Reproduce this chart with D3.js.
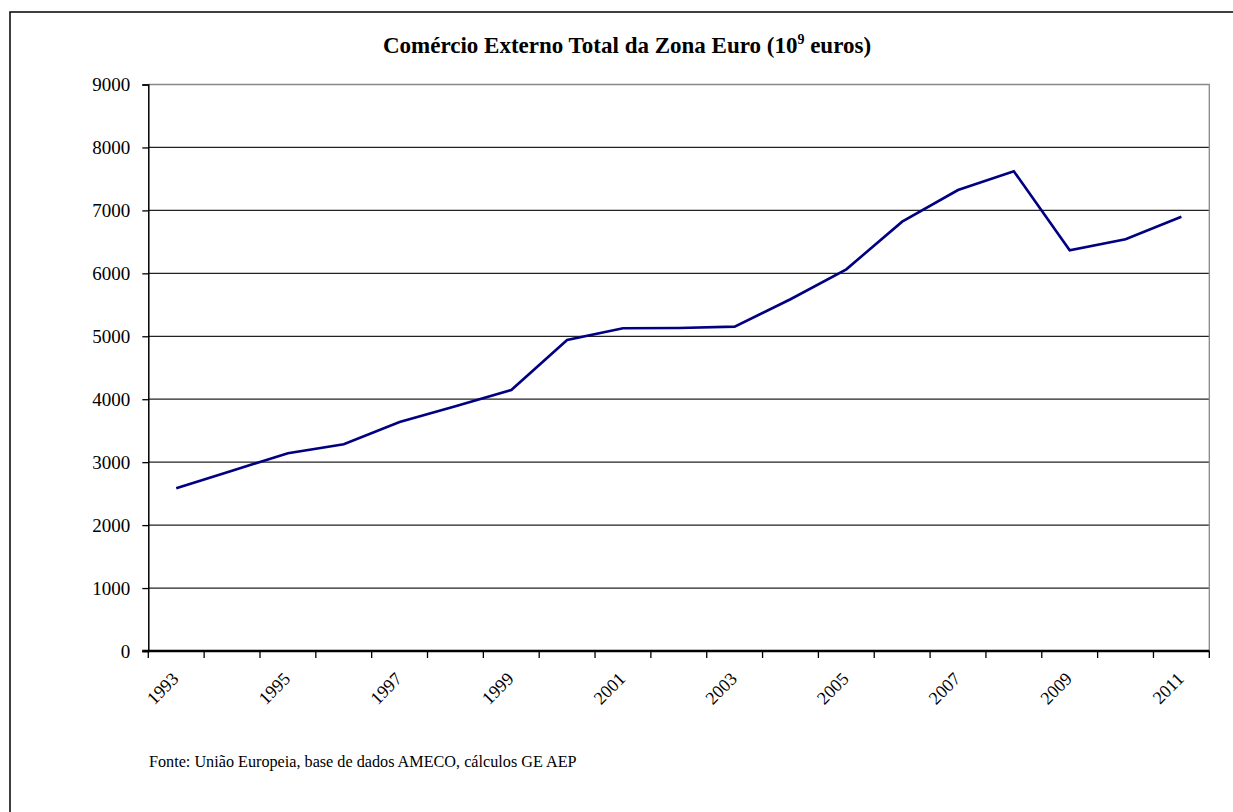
<!DOCTYPE html>
<html>
<head>
<meta charset="utf-8">
<script src="https://cdn.jsdelivr.net/npm/d3@7"></script>
<style>
  html, body { margin: 0; padding: 0; background: #fff; }
  svg { display: block; }
  text { font-family: "Liberation Serif", "Times New Roman", serif; fill: #000; }
</style>
</head>
<body>
<svg id="chart" width="1233" height="812"></svg>
<script>
// Total external trade of the euro area, billions of euros
const years = [1993, 1994, 1995, 1996, 1997, 1998, 1999, 2000, 2001, 2002,
               2003, 2004, 2005, 2006, 2007, 2008, 2009, 2010, 2011];
const trade = [2585, 2865, 3141, 3284, 3638, 3890, 4147, 4941, 5127, 5132,
               5153, 5588, 6064, 6821, 7324, 7621, 6366, 6541, 6900];
const yTicks = [0, 1000, 2000, 3000, 4000, 5000, 6000, 7000, 8000, 9000];
const labelYears = [1993, 1995, 1997, 1999, 2001, 2003, 2005, 2007, 2009, 2011];

const svg = d3.select("#chart");
const plotLeft = 148.3, plotRight = 1209.3, plotTop = 84.5, plotBottom = 651;

// outer frame
svg.append("rect")
  .attr("x", 10).attr("y", 12)
  .attr("width", 1240).attr("height", 820)
  .attr("fill", "none").attr("stroke", "#000").attr("stroke-width", 1.5);

const x = d3.scaleBand().domain(years).range([plotLeft, plotRight]).paddingInner(0).paddingOuter(0);
const y = d3.scaleLinear().domain([0, 9000]).range([plotBottom, plotTop]);

// title
const title = svg.append("text")
  .attr("x", 627).attr("y", 53)
  .attr("text-anchor", "middle")
  .attr("font-weight", "bold")
  .attr("font-size", 23);
title.append("tspan").text("Comércio Externo Total da Zona Euro (10");
title.append("tspan").attr("font-size", 14).attr("dy", -9).text("9");
title.append("tspan").attr("dy", 9).text(" euros)");

// horizontal gridlines
svg.append("g")
  .selectAll("line")
  .data(yTicks.filter(d => d > 0 && d < 9000))
  .join("line")
  .attr("x1", plotLeft).attr("x2", plotRight)
  .attr("y1", d => y(d)).attr("y2", d => y(d))
  .attr("stroke", "#222").attr("stroke-width", 1.3);

// plot area border (top and right)
svg.append("path")
  .attr("d", `M${plotLeft},${y(9000)}H${plotRight}V${plotBottom}`)
  .attr("fill", "none").attr("stroke", "#888").attr("stroke-width", 1.3);

// y axis
const yAxis = svg.append("g")
  .attr("transform", `translate(${plotLeft},0)`)
  .call(d3.axisLeft(y).tickValues(yTicks).tickSize(6).tickPadding(12).tickFormat(d3.format("d")));
yAxis.select(".domain").attr("stroke", "#000").attr("stroke-width", 1.5);
yAxis.selectAll(".tick line").attr("stroke", "#000").attr("stroke-width", 1.3);
yAxis.selectAll(".tick text")
  .attr("font-family", "'Liberation Serif', 'Times New Roman', serif")
  .attr("font-size", 19).attr("fill", "#000");

// x axis baseline
svg.append("line")
  .attr("x1", plotLeft - 6).attr("x2", plotRight)
  .attr("y1", plotBottom).attr("y2", plotBottom)
  .attr("stroke", "#000").attr("stroke-width", 2.5);

// category boundary ticks
const bounds = years.map(d => x(d)).concat([x(years[years.length - 1]) + x.bandwidth()]);
svg.append("g")
  .selectAll("line")
  .data(bounds)
  .join("line")
  .attr("x1", d => d).attr("x2", d => d)
  .attr("y1", plotBottom).attr("y2", plotBottom + 7)
  .attr("stroke", "#000").attr("stroke-width", 1.3);

// rotated year labels
svg.append("g")
  .selectAll("text")
  .data(labelYears)
  .join("text")
  .attr("text-anchor", "end")
  .attr("font-size", 18)
  .attr("transform", d => `translate(${x(d) + x.bandwidth() / 2 + 3.5},${plotBottom + 29}) rotate(-45)`)
  .text(d => d);

// trade line
const line = d3.line()
  .x((d, i) => x(years[i]) + x.bandwidth() / 2)
  .y(d => y(d));
svg.append("path")
  .datum(trade)
  .attr("d", line)
  .attr("fill", "none")
  .attr("stroke", "#000080")
  .attr("stroke-width", 2.6)
  .attr("stroke-linejoin", "miter");

// source note
svg.append("text")
  .attr("x", 149).attr("y", 767)
  .attr("font-size", 16.2)
  .text("Fonte: União Europeia, base de dados AMECO, cálculos GE AEP");
</script>
</body>
</html>
